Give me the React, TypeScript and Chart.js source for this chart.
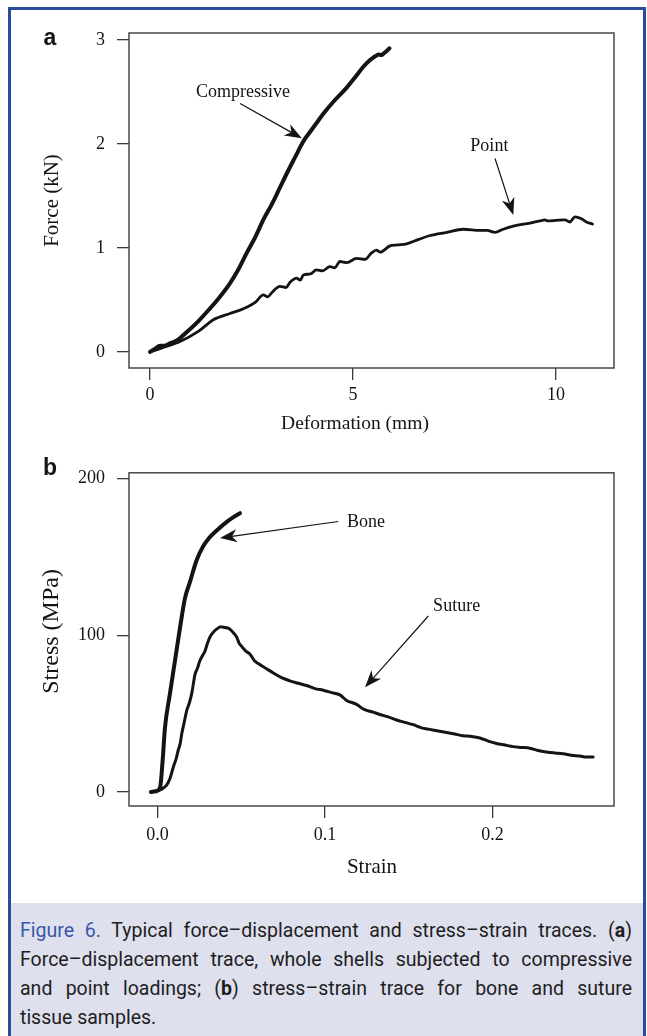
import React, { useEffect, useRef } from "react";
import { Chart, registerables } from "chart.js";

Chart.register(...registerables);

// ---------- Panel a : force–deformation ----------
const compressiveX = [0, 0.12, 0.25, 0.35, 0.5, 0.66, 0.9, 1.2, 1.48, 1.7, 1.97, 2.2, 2.38, 2.6, 2.79, 3.0, 3.2, 3.4, 3.61, 3.7, 3.8, 3.95, 4.1, 4.27, 4.55, 4.84, 5.05, 5.25, 5.4, 5.5, 5.56, 5.63, 5.7, 5.77, 5.83, 5.9];
const compressiveY = [0, 0.03, 0.06, 0.06, 0.085, 0.11, 0.19, 0.3, 0.42, 0.52, 0.66, 0.81, 0.95, 1.11, 1.27, 1.42, 1.58, 1.74, 1.9, 1.97, 2.04, 2.12, 2.2, 2.29, 2.42, 2.54, 2.64, 2.74, 2.8, 2.83, 2.845, 2.86, 2.855, 2.875, 2.895, 2.92];

const pointX = [0, 0.3, 0.74, 1.2, 1.56, 1.97, 2.2, 2.38, 2.6, 2.79, 2.9, 3.0, 3.2, 3.35, 3.45, 3.61, 3.7, 3.78, 3.95, 4.1, 4.25, 4.43, 4.55, 4.68, 4.85, 5.09, 5.3, 5.45, 5.58, 5.67, 5.91, 6.1, 6.32, 6.6, 6.9, 7.31, 7.72, 8.13, 8.3, 8.5, 8.7, 8.95, 9.36, 9.6, 9.73, 9.8, 10.0, 10.22, 10.34, 10.47, 10.63, 10.75, 10.9];
const pointY = [0, 0.04, 0.1, 0.2, 0.31, 0.37, 0.4, 0.43, 0.48, 0.55, 0.53, 0.57, 0.63, 0.62, 0.67, 0.71, 0.69, 0.74, 0.75, 0.79, 0.78, 0.82, 0.81, 0.87, 0.86, 0.9, 0.89, 0.95, 0.98, 0.96, 1.02, 1.03, 1.04, 1.08, 1.12, 1.15, 1.18, 1.17, 1.17, 1.15, 1.18, 1.21, 1.24, 1.26, 1.27, 1.26, 1.265, 1.27, 1.25, 1.3, 1.28, 1.25, 1.23];

const aXTicks = [0, 5, 10];
const aYTicks = [0, 1, 2, 3];

// ---------- Panel b : stress–strain ----------
const boneX = [-0.004, -0.001, 0.0015, 0.003, 0.0044, 0.0074, 0.0104, 0.0134, 0.0164, 0.0193, 0.0233, 0.0273, 0.031, 0.0353, 0.0413, 0.046, 0.0492];
const boneY = [0, 0.5, 3, 20, 41, 63, 84, 105, 124, 134, 148, 157, 162.5, 167, 172.5, 176, 178];

const sutureX = [-0.004, -0.001, 0.002, 0.004, 0.0054, 0.0075, 0.0094, 0.011, 0.0124, 0.0135, 0.0144, 0.0158, 0.0174, 0.019, 0.0204, 0.0215, 0.0223, 0.0238, 0.0253, 0.0268, 0.0283, 0.0298, 0.0313, 0.0333, 0.0353, 0.0378, 0.0402, 0.0425, 0.0442, 0.0458, 0.0472, 0.0487, 0.0502, 0.0527, 0.0552, 0.0577, 0.0601, 0.0646, 0.0691, 0.074, 0.079, 0.084, 0.089, 0.094, 0.0989, 0.104, 0.1089, 0.1129, 0.1189, 0.1228, 0.1288, 0.1328, 0.1377, 0.1427, 0.1477, 0.1527, 0.1576, 0.1626, 0.1676, 0.1726, 0.1775, 0.1825, 0.1875, 0.1925, 0.1975, 0.2024, 0.2074, 0.2124, 0.2173, 0.2223, 0.2273, 0.2323, 0.2372, 0.2422, 0.2472, 0.2522, 0.2562, 0.2601];
const sutureY = [0, 0.5, 1.5, 3, 4.4, 9, 16, 21, 27, 31, 37, 44, 52, 57, 63, 70, 75, 79, 84, 87, 90, 95, 99, 102, 104, 105.5, 105, 104.5, 103, 101, 99, 95, 93, 90, 88, 84, 82, 79, 76, 73, 71, 69.5, 68, 66, 65, 63.5, 62, 58.5, 56, 53, 51, 49.5, 48, 46, 44.5, 43, 41, 40, 39, 38, 37, 36, 35.5, 34.5, 32.5, 31, 30, 29, 28.5, 28, 26.5, 25.6, 25, 24.5, 23.5, 23, 22.3, 22.4];

const bXTicks = [0, 0.1, 0.2];
const bXTickLabels = ["0.0", "0.1", "0.2"];
const bYTicks = [0, 100, 200];

// annotation labels with arrows (data coordinates)
const aNotes = [
  { text: "Compressive", tx: 2.29, ty: 2.5, sx: 2.22, sy: 2.39, ex: 3.74, ey: 2.055 },
  { text: "Point", tx: 8.36, ty: 1.974, sx: 8.5, sy: 1.86, ex: 8.95, ey: 1.317 },
];
const bNotes = [
  { text: "Bone", tx: 0.1245, ty: 172, sx: 0.1079, sy: 172.7, ex: 0.0373, ey: 162.1 },
  { text: "Suture", tx: 0.1786, ty: 118.7, sx: 0.1617, sy: 112.4, ex: 0.1239, ey: 66.9 },
];

const SERIF = '"Liberation Serif", "Times New Roman", serif';
const INK = "#141414";

function drawArrow(ctx: CanvasRenderingContext2D, sx: number, sy: number, ex: number, ey: number) {
  const dx = ex - sx, dy = ey - sy;
  const len = Math.hypot(dx, dy);
  const ux = dx / len, uy = dy / len;
  const nx = -uy, ny = ux;
  const L = 17, W = 6.5, notch = 12;
  ctx.beginPath();
  ctx.moveTo(sx, sy);
  ctx.lineTo(ex - ux * notch, ey - uy * notch);
  ctx.lineWidth = 1.2;
  ctx.strokeStyle = INK;
  ctx.stroke();
  ctx.beginPath();
  ctx.moveTo(ex, ey);
  ctx.lineTo(ex - ux * L + nx * W, ey - uy * L + ny * W);
  ctx.lineTo(ex - ux * notch, ey - uy * notch);
  ctx.lineTo(ex - ux * L - nx * W, ey - uy * L - ny * W);
  ctx.closePath();
  ctx.fillStyle = INK;
  ctx.fill();
}

const rPlugin = {
  id: "rstyle",
  afterDraw(chart: any, _args: any, o: any) {
    const { ctx, chartArea: ca } = chart;
    const xs = chart.scales.x;
    const ys = chart.scales.y;
    ctx.save();
    ctx.strokeStyle = "#484848";
    ctx.lineWidth = 1.5;
    ctx.strokeRect(ca.left, ca.top, ca.right - ca.left, ca.bottom - ca.top);

    ctx.textAlign = "center";
    ctx.textBaseline = "middle";
    ctx.fillStyle = INK;
    ctx.font = `${o.noteSize}px ${SERIF}`;
    for (const n of o.notes) {
      ctx.fillStyle = INK;
      ctx.fillText(n.text, xs.getPixelForValue(n.tx), ys.getPixelForValue(n.ty));
      drawArrow(ctx, xs.getPixelForValue(n.sx), ys.getPixelForValue(n.sy), xs.getPixelForValue(n.ex), ys.getPixelForValue(n.ey));
    }

    ctx.fillStyle = INK;
    ctx.font = `${o.xTitleSize}px ${SERIF}`;
    ctx.fillText(o.xTitle, ca.left + o.xTitleDx, ca.bottom + o.xTitleDy);

    ctx.save();
    ctx.translate(ca.left - o.yTitleDx, (ca.top + ca.bottom) / 2 + o.yTitleDy);
    ctx.rotate(-Math.PI / 2);
    ctx.font = `${o.yTitleSize}px ${SERIF}`;
    ctx.fillText(o.yTitle, 0, 0);
    ctx.restore();

    ctx.textBaseline = "alphabetic";
    ctx.font = `bold ${o.letterSize}px "Liberation Sans", Arial, sans-serif`;
    ctx.fillText(o.letter, o.letterX, o.letterY);
    ctx.restore();
  },
};

function axisCommon(ticks: number[], labels: string[] | null, min: number, max: number, pad: number, horizontal: boolean) {
  return {
    type: "linear",
    min,
    max,
    afterBuildTicks: (s: any) => {
      s.ticks = ticks.map((v) => ({ value: v }));
    },
    afterFit: (s: any) => {
      if (horizontal) s.height = 70;
      else s.width = 129;
    },
    grid: { display: true, drawOnChartArea: false, drawTicks: true, tickLength: 12, color: "#3a3a3a", lineWidth: 1.3 },
    border: { display: false },
    ticks: {
      autoSkip: false,
      maxRotation: 0,
      padding: pad,
      color: INK,
      font: { family: SERIF, size: 18 },
      callback: (v: number) => {
        const i = ticks.indexOf(v);
        return labels && i >= 0 ? labels[i] : String(v);
      },
    },
  };
}

function lineSet(xs: number[], ys: number[], width: number) {
  return {
    data: xs.map((x, i) => ({ x, y: ys[i] })),
    showLine: true,
    borderColor: INK,
    backgroundColor: INK,
    borderWidth: width,
    pointRadius: 0,
    cubicInterpolationMode: "monotone",
    borderJoinStyle: "round",
    borderCapStyle: "round",
  };
}

export default function App() {
  const refA = useRef<HTMLCanvasElement>(null);
  const refB = useRef<HTMLCanvasElement>(null);

  useEffect(() => {
    const chartA = new Chart(refA.current as HTMLCanvasElement, {
      type: "scatter",
      data: { datasets: [lineSet(compressiveX, compressiveY, 4), lineSet(pointX, pointY, 2.8)] as any },
      options: {
        responsive: false,
        animation: false,
        events: [],
        layout: { padding: { left: 0, right: 33, top: 33, bottom: 12 } },
        plugins: {
          legend: { display: false },
          tooltip: { enabled: false },
          rstyle: {
            notes: aNotes, noteSize: 18,
            xTitle: "Deformation (mm)", xTitleSize: 19.5, xTitleDx: 226, xTitleDy: 56,
            yTitle: "Force (kN)", yTitleSize: 21, yTitleDx: 77, yTitleDy: 0,
            letter: "a", letterSize: 23, letterX: 50, letterY: 45,
          },
        } as any,
        scales: {
          x: axisCommon(aXTicks, null, -0.517, 11.43, 4, true),
          y: axisCommon(aYTicks, null, -0.154, 3.067, 12, false),
        } as any,
      },
      plugins: [rPlugin as any],
    });

    const chartB = new Chart(refB.current as HTMLCanvasElement, {
      type: "scatter",
      data: { datasets: [lineSet(boneX, boneY, 4), lineSet(sutureX, sutureY, 3)] as any },
      options: {
        responsive: false,
        animation: false,
        events: [],
        layout: { padding: { left: 0, right: 33, top: 21, bottom: 24 } },
        plugins: {
          legend: { display: false },
          tooltip: { enabled: false },
          rstyle: {
            notes: bNotes, noteSize: 18,
            xTitle: "Strain", xTitleSize: 21, xTitleDx: 243, xTitleDy: 61,
            yTitle: "Stress (MPa)", yTitleSize: 24, yTitleDx: 77, yTitleDy: -8,
            letter: "b", letterSize: 23, letterX: 50, letterY: 25,
          },
        } as any,
        scales: {
          x: axisCommon(bXTicks, bXTickLabels, -0.01708, 0.2726, 6, true),
          y: axisCommon(bYTicks, null, -8.9, 203.8, 12, false),
        } as any,
      },
      plugins: [rPlugin as any],
    });

    return () => {
      chartA.destroy();
      chartB.destroy();
    };
  }, []);

  const lineStyle: React.CSSProperties = { textAlign: "justify", textAlignLast: "justify", whiteSpace: "nowrap" };

  return (
    <div style={{ position: "absolute", left: 0, top: 0, width: 647, height: 1036, overflow: "hidden", background: "#ffffff" }}>
      <div
        style={{
          position: "absolute",
          left: 8,
          top: 7,
          width: 638,
          height: 1100,
          border: "3px solid #2c4b9b",
          boxSizing: "border-box",
          background: "#ffffff",
        }}
      />
      <div
        style={{
          position: "absolute",
          left: 11,
          top: 903,
          width: 632,
          height: 140,
          background: "#dfe0ee",
          boxSizing: "border-box",
          padding: "13px 11px 0 9px",
          fontFamily: "Roboto, 'Open Sans', sans-serif",
          fontSize: 19.5,
          lineHeight: "29px",
          color: "#1e1e1e",
        }}
      >
        <div style={lineStyle}>
          <span style={{ color: "#3558a8" }}>Figure 6.</span> Typical force–displacement and stress–strain traces. (<b>a</b>)
        </div>
        <div style={lineStyle}>Force–displacement trace, whole shells subjected to compressive</div>
        <div style={lineStyle}>
          and point loadings; (<b>b</b>) stress–strain trace for bone and suture
        </div>
        <div>tissue samples.</div>
      </div>
      <canvas ref={refA} width={647} height={450} style={{ position: "absolute", left: 0, top: 0, width: 647, height: 450 }} />
      <canvas ref={refB} width={647} height={450} style={{ position: "absolute", left: 0, top: 450, width: 647, height: 450 }} />
    </div>
  );
}
